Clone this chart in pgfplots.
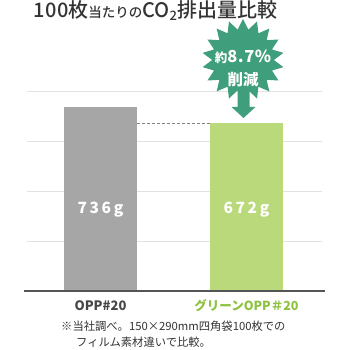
\documentclass[border=0pt]{standalone}
\usepackage{pgfplots}
\pgfplotsset{compat=1.18}
\usepackage{fontspec}
\setmainfont{Noto Sans CJK JP}
\newfontfamily\medfont{Noto Sans CJK JP Medium}
\usetikzlibrary{shapes.geometric}
\definecolor{graybar}{HTML}{A6A6A6}
\definecolor{greenbar}{HTML}{B9D97A}
\definecolor{gridc}{HTML}{E2E2E2}
\definecolor{basec}{HTML}{555555}
\definecolor{titlec}{HTML}{333333}
\definecolor{greentext}{HTML}{8DC23F}
\definecolor{starc}{HTML}{3F9E7B}
\begin{document}
\begin{tikzpicture}[x=1pt,y=1pt]
\path[use as bounding box] (0,0) rectangle (350,350);
\begin{axis}[
  at={(27pt,59pt)}, anchor=south west,
  scale only axis, width=295pt, height=200pt,
  xmin=27, xmax=322, ymin=0, ymax=800,
  axis line style={draw=none},
  xtick=\empty, ytick={200,400,600,800}, yticklabels={},
  major tick length=0pt,
  ymajorgrids, grid style={gridc, line width=0.9pt},
  clip=false,
]
\addplot[ybar, bar shift=0pt, bar width=73, fill=graybar, draw=none] coordinates {(100.5,736)};
\addplot[ybar, bar shift=0pt, bar width=73, fill=greenbar, draw=none] coordinates {(246.5,672)};
\addplot[densely dashed, color=gray, line width=0.8pt] coordinates {(137,672) (210,672)};
\draw[basec, line width=1.2pt] (axis cs:24,0) -- (axis cs:325,0);
\node[white, font=\fontsize{15.5}{15.5}\selectfont\bfseries] at (axis cs:100.5,324) {7\,3\,6\,g};
\node[white, font=\fontsize{15.5}{15.5}\selectfont\bfseries] at (axis cs:246.5,324) {6\,7\,2\,g};
\end{axis}
% title
\node[anchor=base west, titlec, inner sep=0pt] at (33,332) {\medfont\fontsize{20}{20}\selectfont 1\kern0.5pt0\kern0.5pt0枚{\fontsize{13.5}{13.5}\selectfont 当たりの}CO\raisebox{-3pt}{\fontsize{13}{13}\selectfont 2}排出量比較};
% starburst
\node[star, star points=18, star point ratio=1.33, minimum size=82pt, fill=starc, inner sep=0pt] at (243,290) {};
\fill[starc] (237.5,266) -- (249.5,266) -- (249.5,243) -- (255.5,243) -- (243.5,232) -- (231.5,243) -- (237.5,243) -- cycle;
\node[white, inner sep=0pt] at (243,293) {\fontsize{12.5}{12.5}\selectfont\bfseries 約\fontsize{16.5}{16.5}\selectfont 8\kern0.5pt.\kern0.5pt7\kern0.5pt\%};
\node[white, inner sep=0pt] at (243,270) {\fontsize{15.5}{15.5}\selectfont\bfseries 削減};
% categories
\node[titlec!90, inner sep=0pt] at (100.5,44) {\fontsize{13}{13}\selectfont\bfseries OPP\#20};
\node[greentext, inner sep=0pt] at (246.5,44) {\fontsize{12.5}{12.5}\selectfont\bfseries グリーンOPP＃20};
% footnote
\node[anchor=west, titlec, inner sep=0pt] at (61,24) {\fontsize{11.3}{11.3}\selectfont ※当社調べ。150×290mm四角袋100枚での};
\node[anchor=west, titlec, inner sep=0pt] at (76,8) {\fontsize{11.3}{11.3}\selectfont フィルム素材違いで比較。};
\end{tikzpicture}
\end{document}
